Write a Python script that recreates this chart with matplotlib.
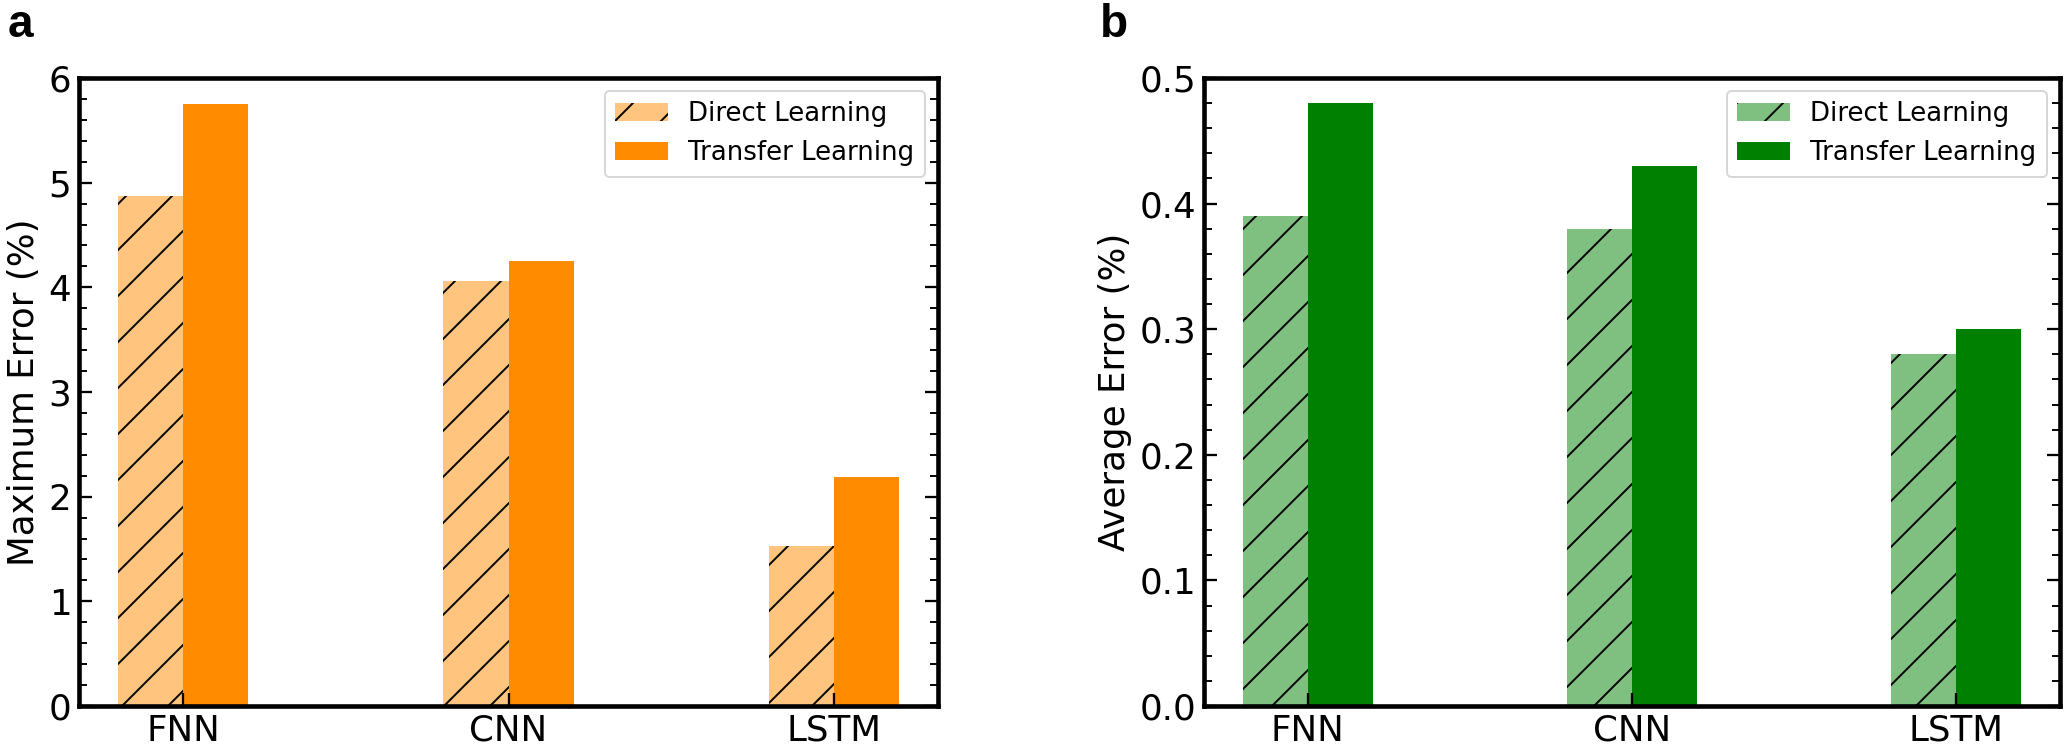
import matplotlib
matplotlib.use("Agg")
import matplotlib.pyplot as plt
from matplotlib.ticker import MultipleLocator
import numpy as np

models = ["FNN", "CNN", "LSTM"]
max_direct = [4.87, 4.06, 1.53]
max_transfer = [5.75, 4.25, 2.19]
avg_direct = [0.39, 0.38, 0.28]
avg_transfer = [0.48, 0.43, 0.30]
legend_labels = ["Direct Learning", "Transfer Learning"]

plt.rcParams['font.family'] = ['DejaVu Sans']
plt.rcParams['hatch.linewidth'] = 0.5
plt.rcParams['hatch.color'] = 'black'

DPI = 276
fig = plt.figure(figsize=(2070 / DPI, 746 / DPI), dpi=DPI)
ax1 = fig.add_axes([79 / 2070, 40 / 746, 859 / 2070, 628 / 746])
ax2 = fig.add_axes([1204 / 2070, 40 / 746, 856 / 2070, 628 / 746])

x = np.arange(len(models))
w = 0.2


def style(ax, ylim, major, minor, ylabel, fmt, label_x):
    ax.set_ylim(*ylim)
    ax.set_xlim(-0.32, 2.32)
    ax.yaxis.set_major_locator(MultipleLocator(major))
    ax.yaxis.set_minor_locator(MultipleLocator(minor))
    ax.yaxis.set_major_formatter(plt.FormatStrFormatter(fmt))
    ax.set_xticks(x)
    ax.set_xticklabels(models)
    ax.tick_params(axis='both', which='major', direction='in', length=3.5,
                   width=0.6, labelsize=9.3, pad=2)
    ax.tick_params(axis='y', which='minor', direction='in', length=2.1, width=0.5)
    ax.tick_params(axis='y', which='both', right=True)
    ax.tick_params(axis='x', which='both', top=False)
    for s in ax.spines.values():
        s.set_linewidth(1.2)
    ax.set_ylabel(ylabel, fontsize=9.3)
    ax.yaxis.set_label_coords(label_x, 0.5)
    leg = ax.legend(loc='upper right', fontsize=6.8, frameon=True)
    leg.get_frame().set_linewidth(0.5)


ax1.bar(x - w / 2, max_direct, w, color='#FFC57F', hatch='//', label=legend_labels[0])
ax1.bar(x + w / 2, max_transfer, w, color='#FF8C00', label=legend_labels[1])
style(ax1, (0, 6), 1, 0.2, "Maximum Error (%)", "%d", -0.044)

ax2.bar(x - w / 2, avg_direct, w, color='#7FBF7F', hatch='//', label=legend_labels[0])
ax2.bar(x + w / 2, avg_transfer, w, color='#008000', label=legend_labels[1])
style(ax2, (0, 0.5), 0.1, 0.02, "Average Error (%)", "%.1f", -0.084)

fig.text(8 / 2070, 1 - 37 / 746, "a", fontsize=12, fontweight='bold',
         family=['Liberation Sans', 'DejaVu Sans'], va='baseline', ha='left')
fig.text(1100 / 2070, 1 - 37 / 746, "b", fontsize=12, fontweight='bold',
         family=['Liberation Sans', 'DejaVu Sans'], va='baseline', ha='left')

fig.savefig("out.png", dpi=DPI)
